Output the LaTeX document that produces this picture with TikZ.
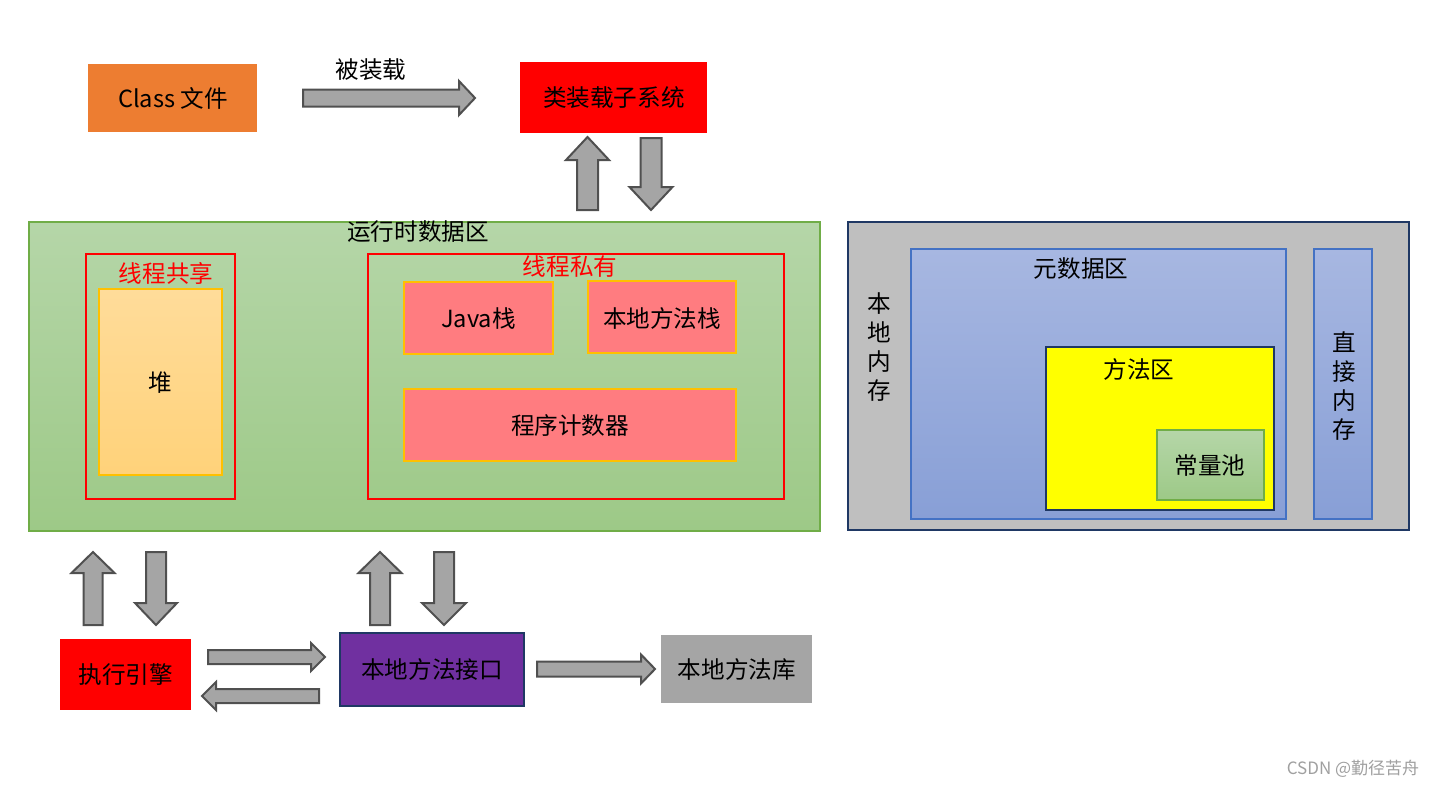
\documentclass[tikz,border=0pt]{standalone}
\usepackage{fontspec}
\setmainfont{Noto Sans CJK SC}
\begin{document}
\begin{tikzpicture}[x=0.5pt,y=-0.5pt,
  every node/.style={font=\fontsize{11.8}{13}\selectfont, inner sep=0pt},
  arr/.style={fill=arrgray, draw=arrline, line width=1pt},
  redframe/.style={draw=red, line width=1pt},
  pinkbox/.style={fill=pinkfill, draw=amber, line width=0.6pt},
  vtext/.style={align=center, font=\fontsize{11.8}{14.6}\selectfont}]
\definecolor{arrgray}{HTML}{A5A5A5}
\definecolor{arrline}{HTML}{505050}
\definecolor{orangefill}{HTML}{ED7D31}
\definecolor{pinkfill}{HTML}{FF7C80}
\definecolor{amber}{HTML}{FFC000}
\definecolor{greentop}{HTML}{B5D6A8}
\definecolor{greenbot}{HTML}{9DC987}
\definecolor{greenline}{HTML}{70AD47}
\definecolor{navy}{HTML}{1F3864}
\definecolor{bluetop}{HTML}{A7B7E1}
\definecolor{bluebot}{HTML}{889FD6}
\definecolor{blueline}{HTML}{4472C4}
\definecolor{purplefill}{HTML}{7030A0}
\definecolor{heaptop}{HTML}{FFDC9A}
\definecolor{heapbot}{HTML}{FFD27A}
\definecolor{pureyellow}{HTML}{FFFF00}
\definecolor{lightgray}{HTML}{BFBFBF}
\definecolor{wmgray}{HTML}{A0A0A0}
\newcommand{\barrow}[6]{%
  \begin{scope}[shift={#1},rotate=#2]
  \draw[arr] (0,-#4) -- ({#3-#6},-#4) -- ({#3-#6},-#5) -- (#3,0) -- ({#3-#6},#5) -- ({#3-#6},#4) -- (0,#4) -- cycle;
  \end{scope}}
\useasboundingbox (0,0) rectangle (1438,787);
\fill[white] (0,0) rectangle (1438,787);

% top row
\node[fill=orangefill, minimum width=84.5pt, minimum height=34pt, anchor=north west] (cls) at (88,64) {Class 文件};
\node[fill=red, minimum width=93.5pt, minimum height=35.5pt, anchor=north west] (loader) at (520,62) {类装载子系统};
\barrow{(303,98)}{0}{172}{8.5}{17}{16}
\node (load) at (371,70) {被装载};
\barrow{(587.5,210)}{90}{73}{10.5}{21.5}{23}
\barrow{(651,138)}{-90}{72}{10.5}{21.5}{23}

% runtime data area
\shade[top color=greentop, bottom color=greenbot, draw=greenline, line width=0.6pt] (29,222) rectangle (820,531);
\node (rt) at (418,232) {运行时数据区};
\draw[redframe] (86,254) rectangle (235,499);
\node[text=red] (shared) at (166,273) {线程共享};
\shade[top color=heaptop, bottom color=heapbot, draw=amber, line width=0.6pt] (99,289) rectangle (222,475);
\node (heap) at (160,383) {堆};
\draw[redframe] (368,254) rectangle (784,499);
\node[text=red] (private) at (570,266) {线程私有};
\draw[pinkbox] (404,282) rectangle (553,354);
\node (jstack) at (478.5,319) {Java栈};
\draw[pinkbox] (588,281) rectangle (736,353);
\node (nstack) at (662,318) {本地方法栈};
\draw[pinkbox] (404,389) rectangle (736,461);
\node (pc) at (570,426) {程序计数器};

% native memory
\draw[fill=lightgray, draw=navy, line width=1pt] (848,222) rectangle (1409,530);
\node[vtext] (nm) at (879,347) {本\\地\\内\\存};
\shade[top color=bluetop, bottom color=bluebot, draw=blueline, line width=0.6pt] (911,249) rectangle (1286,519);
\node (meta) at (1081,269) {元数据区};
\draw[fill=pureyellow, draw=navy, line width=1pt] (1046,347) rectangle (1274,510);
\node (ma) at (1139,369) {方法区};
\shade[top color=greentop, bottom color=greenbot, draw=greenline, line width=0.6pt] (1157,430) rectangle (1264,500);
\node (cp) at (1210,466) {常量池};
\shade[top color=bluetop, bottom color=bluebot, draw=blueline, line width=0.6pt] (1314,249) rectangle (1372,519);
\node[vtext] (dm) at (1344,386) {直\\接\\内\\存};

% bottom arrows
\barrow{(93,625)}{90}{73}{9.5}{21.5}{21}
\barrow{(156,552)}{-90}{73}{10}{21}{22}
\barrow{(380,625)}{90}{73}{10}{21.5}{21}
\barrow{(444,552)}{-90}{73}{10}{22}{22}

% bottom row
\node[fill=red, minimum width=65.5pt, minimum height=35.5pt, anchor=north west] (exe) at (60,639) {执行引擎};
\node[fill=purplefill, draw=navy, line width=1pt, minimum width=92pt, minimum height=36.5pt, anchor=north west] (ni) at (339,632) {本地方法接口};
\node[fill=arrgray, minimum width=75.5pt, minimum height=34pt, anchor=north west] (nl) at (661,635) {本地方法库};
\barrow{(208,657)}{0}{117}{7}{14}{14}
\barrow{(319,696)}{180}{117}{7}{14}{14}
\barrow{(537,669)}{0}{118}{7.5}{14.5}{14}

\node[text=wmgray, font=\fontsize{8.5}{10}\selectfont] (wm) at (1353,769) {CSDN @勤径苦舟};
\end{tikzpicture}
\end{document}
